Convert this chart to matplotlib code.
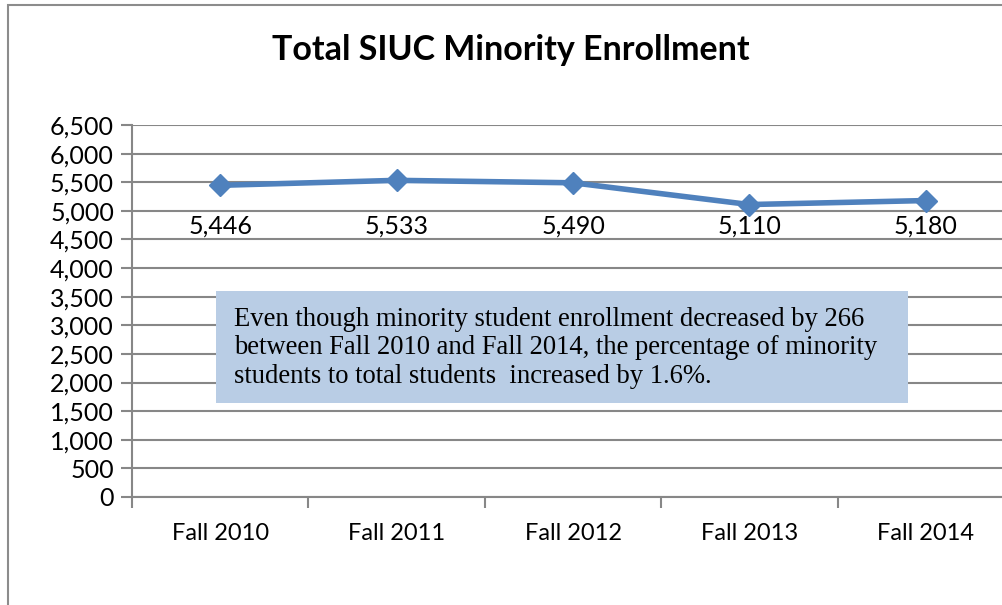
import matplotlib
matplotlib.use("Agg")
import matplotlib.pyplot as plt
from matplotlib.patches import Rectangle
from matplotlib.transforms import blended_transform_factory

# data
terms = ["Fall 2010", "Fall 2011", "Fall 2012", "Fall 2013", "Fall 2014"]
enrollment = [5446, 5533, 5490, 5110, 5180]
y_ticks = list(range(0, 7000, 500))

W, H = 1002, 605
fig = plt.figure(figsize=(W / 100, H / 100), dpi=100)

# chart border (cropped on right/bottom like the original)
fig.add_artist(Rectangle((8 / W, -0.05), 1.2, (H - 5) / H + 0.05, transform=fig.transFigure,
                         fill=False, edgecolor="#8c8c8c", linewidth=1.5))

ax = fig.add_axes([132 / W, (H - 497) / H, (1014 - 132) / W, 372 / H])
ax.set_xlim(-0.5, len(terms) - 0.5)
ax.set_ylim(0, 6500)

gray = "#878787"
ax.set_yticks(y_ticks)
ax.set_yticklabels([f"{v:,}" for v in y_ticks], fontsize=18, family="Lato")
ax.yaxis.grid(True, color=gray, linewidth=1.5)
ax.set_axisbelow(True)

# category ticks sit between categories
ax.set_xticks([i - 0.5 for i in range(len(terms) + 1)])
ax.set_xticklabels([])
ax.set_xticks(range(len(terms)), minor=True)
ax.set_xticklabels(terms, minor=True, fontsize=17, family="Lato")
ax.tick_params(axis="x", which="major", length=8, width=1.5, color=gray)
ax.tick_params(axis="x", which="minor", length=0, pad=19)
ax.tick_params(axis="y", length=8, width=1.5, color=gray, pad=5)

for s in ["top", "right"]:
    ax.spines[s].set_visible(False)
for s in ["left", "bottom"]:
    ax.spines[s].set_color(gray)
    ax.spines[s].set_linewidth(1.5)

x = list(range(len(terms)))
ax.plot(x, enrollment, color="#4F81BD", linewidth=4, marker="D", markersize=11,
        clip_on=False, zorder=5)
lab_tr = blended_transform_factory(ax.transData, ax.transAxes)
for xi, v in zip(x, enrollment):
    ax.text(xi, 0.727, f"{v:,}", transform=lab_tr,
            ha="center", va="center", fontsize=18, family="Lato")

box = Rectangle((216 / W, (H - 403) / H), (908 - 216) / W, (403 - 291) / H,
                transform=fig.transFigure, facecolor="#B9CDE5", edgecolor="none", zorder=6)
fig.add_artist(box)
fig.text(234 / W, (H - 348) / H,
         "Even though minority student enrollment decreased by 266\n"
         "between Fall 2010 and Fall 2014, the percentage of minority\n"
         "students to total students  increased by 1.6%.",
         family="Liberation Serif", fontsize=19.2, va="center", ha="left",
         linespacing=1.17, zorder=7)

fig.text(511 / W, (H - 50) / H, "Total SIUC Minority Enrollment", ha="center", va="center",
         fontsize=24.5, fontweight="bold", family="Lato")

fig.savefig("out.png", dpi=100)
